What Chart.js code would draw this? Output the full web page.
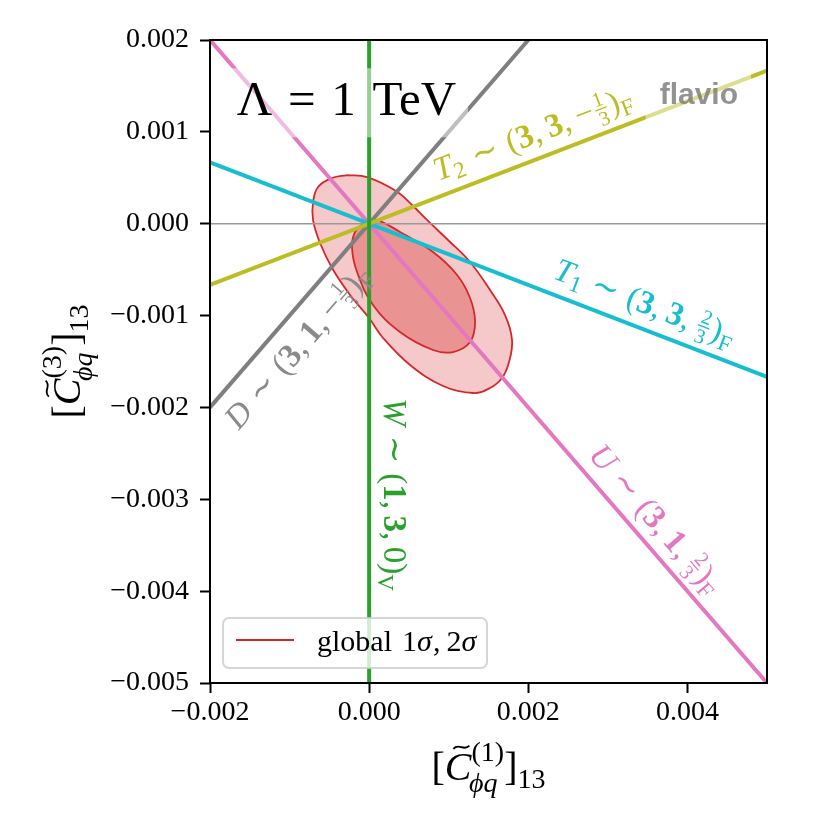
<!DOCTYPE html>
<html>
<head>
<meta charset="utf-8">
<script src="https://cdn.jsdelivr.net/npm/chart.js@4.4.1/dist/chart.umd.min.js"></script>
<style>
  html, body { margin: 0; padding: 0; background: #fff; }
  #wrap { width: 830px; height: 830px; }
</style>
</head>
<body>
<div id="wrap"><canvas id="chart" width="830" height="830"></canvas></div>
<script>
// --- values ---
const xTickValues = [-0.002, 0.000, 0.002, 0.004];
const yTickValues = [-0.005, -0.004, -0.003, -0.002, -0.001, 0.000, 0.001, 0.002];

// global fit: 2 sigma contour (outer) and 1 sigma contour (inner)
const outerX = [-0.000278, -0.000026, 0.000338, 0.000552, 0.000753, 0.001004, 0.001268, 0.001519,
                0.001708, 0.001796, 0.001758, 0.001670, 0.001519, 0.001306, 0.000929, 0.000514,
                0.000175, -0.000001, -0.000240, -0.000466, -0.000617, -0.000705, -0.000705, -0.000642, -0.000466];
const outerY = [0.000530, 0.000508, 0.000356, 0.000193, 0.000019, -0.000188, -0.000417, -0.000722,
                -0.000994, -0.001266, -0.001506, -0.001680, -0.001789, -0.001843, -0.001767, -0.001538,
                -0.001244, -0.001027, -0.000776, -0.000482, -0.000210, 0.000040, 0.000236, 0.000400, 0.000498];
const innerX = [-0.000052, 0.000099, 0.000388, 0.000803, 0.001105, 0.001268, 0.001331, 0.001268,
                0.001054, 0.000803, 0.000388, 0.000049, -0.000152, -0.000215, -0.000177];
const innerY = [0.000019, 0.000040, -0.000090, -0.000308, -0.000558, -0.000809, -0.001070, -0.001288,
                -0.001397, -0.001375, -0.001179, -0.000885, -0.000526, -0.000265, -0.000090];

// single-mediator directions (end points where they leave the frame)
const dLineX = [-0.002, 0.002];
const dLineY = [-0.002, 0.002];
const uLineX = [-0.002, 0.005];
const uLineY = [0.002, -0.005];
const t1LineX = [-0.002, 0.005];
const t1LineY = [0.000667, -0.001667];
const t2LineX = [-0.002, 0.005];
const t2LineY = [-0.000667, 0.001667];
const wLineX = [0, 0];
const wLineY = [-0.005, 0.002];
const zeroLineX = [-0.002, 0.005];
const zeroLineY = [0, 0];

const pts = (xs, ys) => xs.map((x, i) => ({ x: x, y: ys[i] }));
const closed = (xs, ys) => pts(xs, ys).concat([{ x: xs[0], y: ys[0] }]);

// --- small rich text helper (sub/superscripts, fractions, accents) ---
const SERIF = "'Liberation Serif', 'DejaVu Serif', serif";
function fnt(style, px) {
    return (style === "i" ? "italic " : "") + (style === "b" ? "bold " : "") + px.toFixed(1) + "px " + SERIF;
}

function layoutRich(ctx, segs, size) {
    const ops = [];
    let x = 0;
    segs.forEach(g => {
        if (g.sp !== undefined) { x += g.sp * size; return; }
        if (g.frac) {
            const px = size * 0.62;
            ctx.font = fnt("", px);
            const w = Math.max(ctx.measureText(g.frac[0]).width, ctx.measureText(g.frac[1]).width) + size * 0.18;
            ops.push({ kind: "frac", x: x, w: w, px: px, n: g.frac[0], d: g.frac[1] });
            x += w;
            return;
        }
        if (g.stack) {
            let w = 0;
            g.stack.forEach(it => {
                const px = size * 0.7;
                ctx.font = fnt(it.f, px);
                const dx = (it.dx || 0) * size;
                ops.push({ kind: "text", x: x + dx, y: it.dy * size, t: it.t, font: fnt(it.f, px) });
                w = Math.max(w, ctx.measureText(it.t).width + dx);
            });
            x += w;
            return;
        }
        const px = size * (g.s || 1);
        const font = fnt(g.f, px);
        ctx.font = font;
        const w = ctx.measureText(g.t).width;
        ops.push({ kind: "text", x: x, y: (g.dy || 0) * size, t: g.t, font: font, acc: g.acc, w: w, px: px });
        x += w + (g.k || 0) * size;
    });
    return { ops: ops, width: x };
}

function drawRich(ctx, segs, size, x, y, angle, color, align) {
    const lay = layoutRich(ctx, segs, size);
    ctx.save();
    ctx.translate(x, y);
    ctx.rotate(angle);
    ctx.translate(-lay.width * (align || 0), 0);
    ctx.fillStyle = color;
    ctx.strokeStyle = color;
    ctx.textBaseline = "alphabetic";
    lay.ops.forEach(op => {
        if (op.kind === "frac") {
            ctx.font = fnt("", op.px);
            ctx.textAlign = "center";
            const cx = op.x + op.w / 2;
            ctx.fillText(op.n, cx, -0.37 * size);
            ctx.fillText(op.d, cx, 0.24 * size);
            ctx.lineWidth = Math.max(1, size * 0.04);
            ctx.beginPath();
            ctx.moveTo(op.x + size * 0.06, -0.27 * size);
            ctx.lineTo(op.x + op.w - size * 0.06, -0.27 * size);
            ctx.stroke();
            return;
        }
        ctx.textAlign = "left";
        ctx.font = op.font;
        ctx.fillText(op.t, op.x, op.y);
        if (op.acc === "tilde") {
            const cx = op.x + op.w * 0.62, ty = op.y - op.px * 0.82, hw = op.px * 0.2, a = op.px * 0.04;
            ctx.lineWidth = op.px * 0.045;
            ctx.beginPath();
            ctx.moveTo(cx - hw, ty + a);
            ctx.bezierCurveTo(cx - hw * 0.3, ty - a * 3, cx + hw * 0.3, ty + a * 3, cx + hw, ty - a);
            ctx.stroke();
        }
    });
    ctx.restore();
    return lay.width;
}

const sim = [{ sp: 0.3 }, { t: "\u223C" }, { sp: 0.3 }];
const comma = [{ t: "," }, { sp: 0.2 }];
const subF = { t: "F", s: 0.7, dy: 0.2 };
const LABEL_SIZE = 33;

const lineLabels = [
    {   // T2 ~ (3,3,-1/3)_F
        segs: [{ t: "T", f: "i" }, { t: "2", s: 0.7, dy: 0.15 }, ...sim, { t: "(" }, { t: "3", f: "b" }, ...comma,
               { t: "3", f: "b" }, ...comma, { t: "\u2212" }, { frac: ["1", "3"] }, { t: ")" }, subF],
        lx: t2LineX, ly: t2LineY, at: [0.000937, 0.000312], off: 15, color: "#bcbd22"
    },
    {   // T1 ~ (3,3,2/3)_F
        segs: [{ t: "T", f: "i" }, { t: "1", s: 0.7, dy: 0.15 }, ...sim, { t: "(" }, { t: "3", f: "b" }, ...comma,
               { t: "3", f: "b" }, ...comma, { frac: ["2", "3"] }, { t: ")" }, subF],
        lx: t1LineX, ly: t1LineY, at: [0.00223, -0.000743], off: 15, color: "#17becf"
    },
    {   // U ~ (3,1,2/3)_F
        segs: [{ t: "U", f: "i" }, ...sim, { t: "(" }, { t: "3", f: "b" }, ...comma,
               { t: "1", f: "b" }, ...comma, { frac: ["2", "3"] }, { t: ")" }, subF],
        lx: uLineX, ly: uLineY, at: [0.00262, -0.00262], off: 13, color: "#e377c2"
    },
    {   // D ~ (3,1,-1/3)_F
        segs: [{ t: "D", f: "i" }, ...sim, { t: "(" }, { t: "3", f: "b" }, ...comma,
               { t: "1", f: "b" }, ...comma, { t: "\u2212" }, { frac: ["1", "3"] }, { t: ")" }, subF],
        lx: dLineX, ly: dLineY, at: [-0.00199, -0.00199], off: -37, color: "#8a8a8a"
    },
    {   // W ~ (1,3,0)_V
        segs: [{ t: "W", f: "i" }, ...sim, { t: "(" }, { t: "1", f: "b" }, ...comma,
               { t: "3", f: "b" }, ...comma, { t: "0" }, { t: ")" }, { t: "V", s: 0.7, dy: 0.2 }],
        lx: wLineX, ly: wLineY, at: [0, -0.00190], off: 15, color: "#2ca02c", flip: true
    }
];

const xTitle = [{ t: "[" }, { t: "C", f: "i", acc: "tilde" },
    { stack: [{ t: "(1)", f: "", dy: -0.47 }, { t: "\u03D5q", f: "i", dy: 0.3, dx: -0.06 }] },
    { t: "]" }, { t: "13", s: 0.7, dy: 0.2 }];
const yTitle = [{ t: "[" }, { t: "C", f: "i", acc: "tilde" },
    { stack: [{ t: "(3)", f: "", dy: -0.47 }, { t: "\u03D5q", f: "i", dy: 0.3, dx: -0.06 }] },
    { t: "]" }, { t: "13", s: 0.7, dy: 0.2 }];

const overlayPlugin = {
    id: "overlay",
    afterDatasetsDraw(chart) {
        const { ctx, chartArea: a, scales } = chart;
        const xs = scales.x, ys = scales.y;
        const w = a.right - a.left, h = a.bottom - a.top;
        ctx.save();
        ctx.beginPath();
        ctx.rect(a.left, a.top, w, h);
        ctx.clip();

        // Lambda = 1 TeV, with half transparent box
        const lam = [{ t: "\u039B" }, { sp: 0.32 }, { t: "=" }, { sp: 0.32 }, { t: "1" }, { sp: 0.34 }, { t: "TeV" }];
        const lamSize = 49;
        const lx = a.left + 0.048 * w, ly = a.top + 0.117 * h;
        const lamW = layoutRich(ctx, lam, lamSize).width;
        ctx.fillStyle = "rgba(255,255,255,0.5)";
        ctx.fillRect(lx - 12, ly - 47, lamW + 24, 69);
        drawRich(ctx, lam, lamSize, lx, ly, 0, "#000", 0);

        // flavio mark
        ctx.font = "bold 30px 'Liberation Sans', 'DejaVu Sans', sans-serif";
        const fw = ctx.measureText("flavio").width;
        const fx = a.right - 29, fy = a.top + 64;
        ctx.fillStyle = "rgba(255,255,255,0.5)";
        ctx.fillRect(fx - fw - 14, fy - 37, fw + 27, 53);
        ctx.fillStyle = "rgba(120,120,120,0.8)";
        ctx.textAlign = "right";
        ctx.textBaseline = "alphabetic";
        ctx.fillText("flavio", fx, fy);

        // labels along the lines
        lineLabels.forEach(l => {
            const x1 = xs.getPixelForValue(l.lx[0]), y1 = ys.getPixelForValue(l.ly[0]);
            const x2 = xs.getPixelForValue(l.lx[1]), y2 = ys.getPixelForValue(l.ly[1]);
            let ang = Math.atan2(y2 - y1, x2 - x1);
            if (l.flip) ang += Math.PI;
            const px = xs.getPixelForValue(l.at[0]), py = ys.getPixelForValue(l.at[1]);
            const bx = px + l.off * Math.sin(ang), by = py - l.off * Math.cos(ang);
            drawRich(ctx, l.segs, LABEL_SIZE, bx, by, ang, l.color, 0);
        });

        // legend
        const bx0 = a.left + 13, by0 = a.bottom - 65, bw = 264, bh = 50;
        ctx.beginPath();
        ctx.roundRect(bx0, by0, bw, bh, 6);
        ctx.fillStyle = "rgba(255,255,255,0.8)";
        ctx.fill();
        ctx.lineWidth = 2;
        ctx.strokeStyle = "rgba(204,204,204,0.8)";
        ctx.stroke();
        ctx.beginPath();
        ctx.moveTo(bx0 + 13, by0 + 22);
        ctx.lineTo(bx0 + 71, by0 + 22);
        ctx.lineWidth = 2;
        ctx.strokeStyle = "#d62728";
        ctx.stroke();
        drawRich(ctx, [{ t: "global" }, { sp: 0.33 }, { t: "1" }, { t: "\u03C3", f: "i", k: 0.04 }, { t: "," }, { sp: 0.2 },
                       { t: "2" }, { t: "\u03C3", f: "i" }],
                 30, bx0 + 94, by0 + 33, 0, "#000", 0);
        ctx.restore();
    },
    afterDraw(chart) {
        const { ctx, chartArea: a } = chart;
        ctx.save();
        ctx.lineWidth = 2;
        ctx.strokeStyle = "#000";
        ctx.strokeRect(a.left, a.top, a.right - a.left, a.bottom - a.top);
        drawRich(ctx, xTitle, 40, (a.left + a.right) / 2, 780, 0, "#000", 0.5);
        drawRich(ctx, yTitle, 40, 80, (a.top + a.bottom) / 2, -Math.PI / 2, "#000", 0.5);
        ctx.restore();
    }
};

function tickText(v) {
    const r = Math.round(v * 1e6) / 1e6;
    return (r < 0 ? "\u2212" : "") + Math.abs(r).toFixed(3);
}

const lineSet = (label, xs, ys, color, width, order) => ({
    label: label,
    data: pts(xs, ys),
    borderColor: color,
    borderWidth: width,
    pointRadius: 0,
    fill: false,
    tension: 0,
    order: order
});

new Chart(document.getElementById("chart"), {
    type: "line",
    data: {
        datasets: [
            {
                label: "global 2 sigma",
                data: closed(outerX, outerY),
                borderColor: "#d62728",
                borderWidth: 1.8,
                backgroundColor: "rgba(214,39,40,0.25)",
                fill: "shape",
                pointRadius: 0,
                tension: 0.4,
                order: 10
            },
            {
                label: "global 1 sigma",
                data: closed(innerX, innerY),
                borderColor: "#d62728",
                borderWidth: 1.8,
                backgroundColor: "rgba(214,39,40,0.33)",
                fill: "shape",
                pointRadius: 0,
                tension: 0.4,
                order: 9
            },
            lineSet("zero", zeroLineX, zeroLineY, "#999999", 1.5, 8),
            lineSet("D", dLineX, dLineY, "#7f7f7f", 4, 5),
            lineSet("U", uLineX, uLineY, "#e377c2", 4, 4),
            lineSet("T1", t1LineX, t1LineY, "#17becf", 4, 3),
            lineSet("T2", t2LineX, t2LineY, "#bcbd22", 4, 2),
            lineSet("W", wLineX, wLineY, "#2ca02c", 4, 1)
        ]
    },
    options: {
        responsive: false,
        devicePixelRatio: 1,
        animation: false,
        layout: { padding: { top: 40, right: 63, bottom: 0, left: 0 } },
        plugins: {
            legend: { display: false },
            tooltip: { enabled: false }
        },
        scales: {
            x: {
                type: "linear",
                min: -0.002,
                max: 0.005,
                afterBuildTicks: s => { s.ticks = xTickValues.map(v => ({ value: v })); },
                afterFit: s => { s.height = 147; },
                grid: { drawOnChartArea: false, drawTicks: true, tickLength: 10, tickWidth: 2, tickColor: "#000" },
                border: { display: false },
                ticks: {
                    font: { family: SERIF, size: 28 },
                    color: "#000",
                    padding: 3,
                    maxRotation: 0,
                    callback: v => tickText(v)
                }
            },
            y: {
                type: "linear",
                min: -0.005,
                max: 0.002,
                afterBuildTicks: s => { s.ticks = yTickValues.map(v => ({ value: v })); },
                afterFit: s => { s.width = 210; },
                grid: { drawOnChartArea: false, drawTicks: true, tickLength: 10, tickWidth: 2, tickColor: "#000" },
                border: { display: false },
                ticks: {
                    font: { family: SERIF, size: 28 },
                    color: "#000",
                    padding: 11,
                    callback: v => tickText(v)
                }
            }
        }
    },
    plugins: [overlayPlugin]
});
</script>
</body>
</html>
